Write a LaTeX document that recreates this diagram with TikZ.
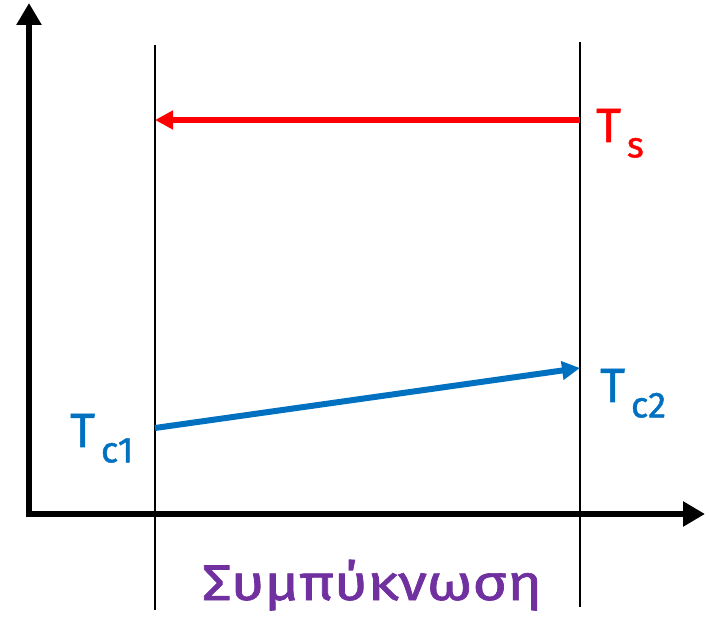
\documentclass[tikz,border=0pt]{standalone}
\usepackage{fontspec}
\setmainfont{Fira Sans}
\newfontfamily\lblfont{Fira Sans}[FakeBold=1.2]
\usetikzlibrary{arrows.meta}
\definecolor{myred}{HTML}{FF0000}
\definecolor{myblue}{HTML}{0070C0}
\definecolor{mypurple}{HTML}{7030A0}
\tikzset{
  axis/.style={line width=6pt,-{Triangle[length=22pt,width=24pt]}},
  guide/.style={line width=2pt,black},
  flow/.style={line width=6pt,-{Triangle[length=18pt,width=18pt]}},
  lbl/.style={anchor=base west,inner sep=0pt,font=\lblfont\fontsize{48}{48}\selectfont},
}
\newcommand{\subtxt}[1]{\raisebox{-0.32em}{\fontsize{36}{36}\selectfont\,#1}}
\begin{document}
\begin{tikzpicture}[x=1pt,y=-1pt]
\useasboundingbox (0,0) rectangle (710,617);
\coordinate (Ytop) at (29,3);
\coordinate (Xend) at (705,514);
\draw[axis] (29,517) -- (Ytop);
\draw[axis] (26,514) -- (Xend);
\coordinate (L1) at (155,45);
\coordinate (L1b) at (155,610);
\coordinate (L2) at (580,42);
\coordinate (L2b) at (580,607);
\draw[guide] (L1) -- (L1b);
\draw[guide] (L2) -- (L2b);
\coordinate (Rs) at (580,120);
\coordinate (Re) at (155,120);
\draw[flow,myred] (Rs) -- (Re);
\coordinate (Bs) at (155,428);
\coordinate (Be) at (580,368);
\draw[flow,myblue] (Bs) -- (Be);
\node[lbl,text=myred] (ts) at (596,142) {T\subtxt{s}};
\node[lbl,text=myblue] (tc1) at (70,447) {T\subtxt{c1}};
\node[lbl,text=myblue] (tc2) at (600,402) {T\subtxt{c2}};
\node[anchor=base,inner sep=0pt,text=mypurple,font=\lblfont\fontsize{50}{50}\selectfont] (cond) at (372,600) {\scalebox{1.18}[1]{Συμπύκνωση}};
\end{tikzpicture}
\end{document}
